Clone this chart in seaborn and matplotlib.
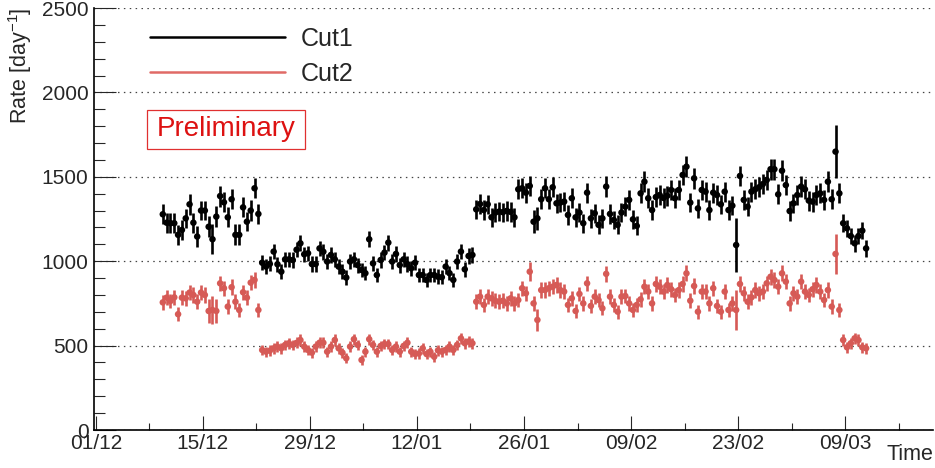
import matplotlib
matplotlib.use("Agg")
import matplotlib.pyplot as plt
import matplotlib.dates as mdates
from matplotlib.lines import Line2D
from matplotlib.patches import Rectangle
from matplotlib.ticker import MultipleLocator, FixedLocator
import pandas as pd
import seaborn as sns

# Event rates in 12-hour bins (per day) and their statistical uncertainties
rate_cut1 = [
    1278, 1228, 1225, 1225, 1156, 1185, 1254, 1337, 1228, 1146, 1300, 1300, 1204,
    1130, 1264, 1386, 1349, 1260, 1367, 1156, 1156, 1319, 1234, 1300, 1432, 1280,
    991, 968, 984, 1057, 982, 938, 1011, 1011, 1007, 1068, 1106, 1041, 1047, 983,
    983, 1076, 1056, 998, 1037, 1011, 968, 938, 903, 998, 1011, 977, 948, 929,
    1130, 987, 918, 1007, 1051, 1110, 998, 1043, 977, 1011, 983, 958, 991, 918,
    918, 889, 918, 918, 908, 905, 968, 929, 889, 998, 1057, 952, 1031, 1037,
    1307, 1339, 1303, 1337, 1260, 1288, 1294, 1290, 1298, 1292, 1260, 1426, 1432,
    1406, 1446, 1234, 1254, 1367, 1432, 1367, 1438, 1343, 1347, 1353, 1274, 1373,
    1260, 1288, 1225, 1406, 1254, 1284, 1215, 1254, 1442, 1280, 1244, 1215, 1288,
    1323, 1363, 1248, 1209, 1402, 1471, 1373, 1303, 1380, 1392, 1375, 1388, 1422,
    1373, 1422, 1511, 1560, 1347, 1491, 1313, 1422, 1412, 1303, 1406,
    1392, 1337, 1412, 1303, 1329, 1096, 1505, 1363, 1323, 1412, 1426, 1438, 1457,
    1481, 1545, 1545, 1396, 1536, 1451, 1297, 1343, 1392, 1442, 1426, 1359, 1353,
    1392, 1402, 1363, 1471, 1367, 1649, 1402, 1225, 1195, 1149, 1106, 1149, 1181,
    1076,
]
err_cut1 = [
    60, 58, 58, 58, 58, 58, 58, 62, 58, 64, 58, 58, 62,
    90, 62, 62, 60, 60, 60, 62, 62, 60, 58, 60, 60, 58,
    45, 45, 45, 46, 45, 44, 45, 45, 45, 46, 47, 45, 46, 45,
    45, 46, 46, 45, 45, 45, 44, 44, 43, 45, 45, 44, 44, 43,
    47, 45, 43, 45, 46, 47, 45, 46, 44, 45, 45, 44, 45, 43,
    43, 43, 43, 43, 43, 43, 44, 43, 43, 45, 46, 44, 45, 45,
    58, 58, 58, 58, 57, 57, 57, 57, 57, 57, 57, 60, 60,
    60, 60, 68, 68, 59, 60, 59, 60, 58, 58, 58, 57, 59,
    57, 57, 56, 60, 57, 57, 56, 57, 60, 57, 56, 56, 57,
    58, 59, 57, 56, 60, 61, 59, 58, 59, 59, 59, 59, 60,
    59, 60, 61, 62, 58, 61, 58, 60, 60, 58, 60,
    59, 58, 60, 58, 58, 160, 61, 59, 58, 60, 60, 60, 61,
    61, 62, 62, 60, 62, 60, 57, 58, 59, 60, 60, 59, 59,
    59, 60, 59, 61, 59, 158, 60, 52, 50, 50, 49, 50, 51,
    49,
]
rate_cut2 = [
    756, 784, 764, 786, 686, 784, 780, 814, 800, 760, 814, 800, 705,
    711, 705, 869, 840, 731, 846, 760, 711, 816, 784, 873, 889, 711,
    474, 464, 470, 484, 494, 484, 504, 514, 504, 516, 533, 494, 474, 458,
    494, 517, 517, 464, 494, 533, 484, 458, 425, 494, 538, 504, 415, 464,
    538, 504, 464, 498, 509, 509, 474, 494, 464, 498, 517, 464, 450, 453,
    484, 450, 464, 434, 472, 464, 474, 494, 474, 504, 543, 514, 524, 514,
    760, 790, 741, 790, 780, 766, 760, 766, 750, 780, 750, 770, 840,
    810, 938, 750, 652, 829, 829, 840, 849, 859, 829, 820, 741, 780,
    705, 806, 750, 869, 735, 790, 770, 721, 925, 790, 741, 701, 790,
    794, 750, 711, 741, 774, 849, 820, 750, 865, 849, 820, 859, 834,
    800, 829, 865, 928, 766, 853, 701, 820, 820, 750, 840,
    735, 701, 820, 711, 750, 711, 865, 810, 760, 786, 829, 810, 820,
    869, 908, 889, 849, 928, 879, 750, 810, 790, 879, 820, 800, 834,
    859, 820, 770, 829, 731, 1043, 711, 533, 490, 514, 543, 533, 490,
    484,
]
err_cut2 = [
    44, 44, 44, 44, 42, 44, 44, 45, 45, 44, 45, 45, 72,
    85, 70, 46, 45, 43, 46, 44, 43, 45, 44, 46, 47, 43,
    31, 30, 31, 31, 31, 31, 32, 32, 32, 32, 33, 31, 31, 30,
    31, 32, 32, 30, 31, 33, 31, 30, 29, 31, 33, 32, 29, 30,
    33, 32, 30, 32, 32, 32, 31, 31, 30, 32, 32, 30, 30, 30,
    31, 30, 30, 29, 31, 30, 31, 31, 31, 32, 33, 32, 32, 32,
    43, 44, 43, 44, 44, 43, 43, 43, 43, 44, 43, 44, 45,
    44, 55, 43, 65, 45, 45, 45, 45, 46, 45, 45, 43, 44,
    42, 44, 43, 46, 43, 44, 44, 42, 47, 44, 43, 42, 44,
    44, 43, 42, 43, 44, 45, 45, 43, 46, 45, 45, 46, 45,
    44, 45, 46, 47, 44, 46, 42, 45, 45, 43, 45,
    43, 42, 45, 42, 43, 118, 46, 45, 44, 44, 45, 45, 45,
    46, 47, 46, 45, 47, 46, 43, 45, 44, 46, 45, 44, 45,
    46, 45, 44, 45, 43, 116, 42, 33, 31, 32, 33, 33, 31,
    31,
]

series_names = ["Cut1", "Cut2"]
series_colors = ["#000000", "#d65a56"]
first_bin_center = "2018-12-09 18:00"
bin_width = "12h"
date_tick_labels = ["01/12", "15/12", "29/12", "12/01", "26/01", "09/02", "23/02", "09/03"]
axis_start = pd.Timestamp("2018-11-30 18:00")
axis_end = pd.Timestamp("2019-03-20 12:00")

sns.set_style("ticks")
plt.rcParams["font.family"] = ["Liberation Sans", "DejaVu Sans"]
plt.rcParams["mathtext.default"] = "regular"

times = pd.date_range(first_bin_center, periods=len(rate_cut1), freq=bin_width)
frames = []
for name, rates, errs in zip(series_names, [rate_cut1, rate_cut2], [err_cut1, err_cut2]):
    frames.append(pd.DataFrame({"time": times, "rate": rates, "err": errs, "cut": name}))
data = pd.concat(frames, ignore_index=True)

fig = plt.figure(figsize=(9.35, 4.68), dpi=100)
W, H = 935, 468
ax = fig.add_axes([94 / W, 1 - 430 / H, (933 - 94) / W, (430 - 8) / H])

palette = dict(zip(series_names, series_colors))
for name in series_names:
    sub = data[data["cut"] == name]
    ax.errorbar(sub["time"], sub["rate"], yerr=sub["err"], fmt="none",
                ecolor=palette[name], elinewidth=1.9, capsize=0, zorder=2)
sns.scatterplot(data=data, x="time", y="rate", hue="cut", palette=palette,
                s=22, linewidth=0, legend=False, ax=ax, zorder=3)

# axes ranges and ticks
ax.set_xlim(axis_start, axis_end)
ax.set_ylim(0, 2500)
tick_dates = pd.to_datetime([f"{d}/{'2018' if d.endswith('/12') else '2019'}" for d in date_tick_labels],
                            format="%d/%m/%Y")
ax.xaxis.set_major_locator(FixedLocator(mdates.date2num(tick_dates)))
ax.set_xticklabels(date_tick_labels)
minor_dates = tick_dates + pd.Timedelta(days=7)
ax.xaxis.set_minor_locator(FixedLocator(mdates.date2num(minor_dates)))
ax.yaxis.set_major_locator(MultipleLocator(500))
ax.yaxis.set_minor_locator(MultipleLocator(100))

ax.tick_params(axis="x", which="major", direction="in", length=10, width=0.8,
               labelsize=15, pad=3, top=False)
ax.tick_params(axis="x", which="minor", direction="in", length=5, width=0.8, top=False)
ax.tick_params(axis="y", which="major", direction="in", length=16, width=0.8,
               labelsize=15, pad=4, right=False)
ax.tick_params(axis="y", which="minor", direction="in", length=8, width=0.8, right=False)

ax.yaxis.grid(True, which="major", linestyle=(0, (1.2, 3.5)), color="#444444", linewidth=0.9)
ax.set_axisbelow(True)
for side in ["top", "right"]:
    ax.spines[side].set_visible(False)
for side in ["left", "bottom"]:
    ax.spines[side].set_linewidth(1.2)
    ax.spines[side].set_color("black")

ax.set_ylabel("Rate [day$^{-1}$]", fontsize=15.5, loc="top")
ax.yaxis.set_label_coords(-0.071, 1.0)
ax.set_xlabel("Time", fontsize=15.5, loc="right")
ax.xaxis.set_label_coords(1.0, -0.032)

handles = [Line2D([], [], color=c, linewidth=1.8) for c in ["#000000", "#e06a66"]]
ax.legend(handles, series_names, loc="upper left", bbox_to_anchor=(0.0667, 0.956),
          frameon=False, fontsize=18, handlelength=5.4, handletextpad=0.65,
          labelspacing=0.45, borderpad=0, borderaxespad=0)

ax.add_patch(Rectangle((0.0632, 0.666), 0.188, 0.0924, transform=ax.transAxes,
                       fill=False, edgecolor="#e03030", linewidth=0.9, zorder=4))
ax.text(0.0632 + 0.094, 0.666 + 0.0462, "Preliminary", transform=ax.transAxes,
        ha="center", va="center", fontsize=20, color="#dd1111", zorder=5)

fig.savefig("out.png", dpi=100)
